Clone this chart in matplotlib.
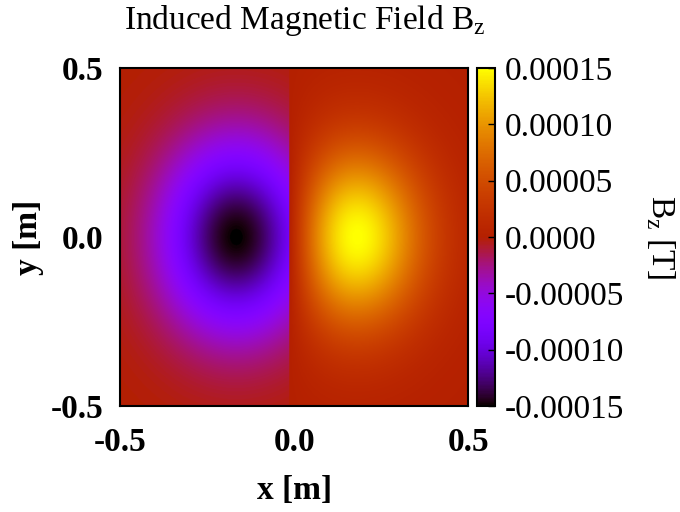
import numpy as np
import matplotlib
matplotlib.use('Agg')
import matplotlib.pyplot as plt

# Field model: two lobes split at a sharp boundary
B_PEAK = 0.00015          # |Bz| at lobe centres [T]
LOBE_NEG_X = -0.167       # centre of negative lobe [m]
LOBE_POS_X = 0.167        # centre of positive lobe [m]
LOBE_Y = 0.0
SPLIT_X = -0.015          # where the field jumps [m]
SCALE_X = 0.207           # horizontal decay length [m]
SCALE_Y = 0.275           # vertical decay length [m]
SHAPE = 2.0               # exponent of the lobe profile
X_RANGE = [-0.5, 0.5]
Y_RANGE = [-0.5, 0.5]
X_TICKS = [-0.5, 0.0, 0.5]
Y_TICKS = [-0.5, 0.0, 0.5]
CB_TICKS = [-0.00015, -0.00010, -0.00005, 0.0, 0.00005, 0.00010, 0.00015]
CB_LABELS = ['-0.00015', '-0.00010', '-0.00005', '0.0000', '0.00005', '0.00010', '0.00015']

plt.rcParams['font.family'] = ['Liberation Serif', 'DejaVu Serif']
plt.rcParams['mathtext.fontset'] = 'custom'
plt.rcParams['mathtext.rm'] = 'Liberation Serif'


def lobe(X, Y, xc):
    r = np.sqrt(((X - xc) / SCALE_X)**2 + ((Y - LOBE_Y) / SCALE_Y)**2)
    return np.exp(-r**SHAPE)


x = np.linspace(X_RANGE[0], X_RANGE[1], 600)
y = np.linspace(Y_RANGE[0], Y_RANGE[1], 600)
X, Y = np.meshgrid(x, y)

neg = -lobe(X, Y, LOBE_NEG_X)
# positive side vanishes at the split (mirror lobe subtracted)
pos = lobe(X, Y, LOBE_POS_X) - lobe(X, Y, 2 * SPLIT_X - LOBE_POS_X)
pos = pos / pos.max()
Bz = B_PEAK * np.where(X < SPLIT_X, neg, pos)

fig = plt.figure(figsize=(6.8, 5.12), dpi=100)
ax = fig.add_axes([0.1765, 0.207, 0.512, 0.66])
cax = fig.add_axes([0.7015, 0.207, 0.026, 0.66])

im = ax.imshow(Bz, origin='lower', extent=X_RANGE + Y_RANGE, cmap='gnuplot',
               vmin=-B_PEAK, vmax=B_PEAK, aspect='auto', interpolation='bilinear')
ax.set_xlim(X_RANGE)
ax.set_ylim(Y_RANGE)
ax.set_xticks(X_TICKS)
ax.set_yticks(Y_TICKS)
ax.set_xticklabels([f'{v:.1f}' for v in X_TICKS], fontsize=24, fontweight='bold')
ax.set_yticklabels([f'{v:.1f}' for v in Y_TICKS], fontsize=24, fontweight='bold')
ax.tick_params(axis='x', direction='in', length=0, pad=15)
ax.tick_params(axis='y', direction='in', length=0, pad=12)
ax.set_xlabel('x [m]', fontsize=24, fontweight='bold', labelpad=12)
ax.set_ylabel('y [m]', fontsize=24, fontweight='bold', labelpad=5)
for s in ax.spines.values():
    s.set_linewidth(1.5)
ax.set_title(r'Induced Magnetic Field B$_\mathrm{z}$', fontsize=24, pad=28, x=0.53)

cb = fig.colorbar(im, cax=cax, ticks=CB_TICKS)
cb.ax.set_yticklabels(CB_LABELS, fontsize=24)
cb.ax.tick_params(direction='in', length=5, width=1, pad=7)
cb.outline.set_linewidth(1.5)
cb.set_label(r'B$_\mathrm{z}$ [T]', fontsize=24, rotation=-90, labelpad=38)

fig.savefig('out.png', dpi=100)
